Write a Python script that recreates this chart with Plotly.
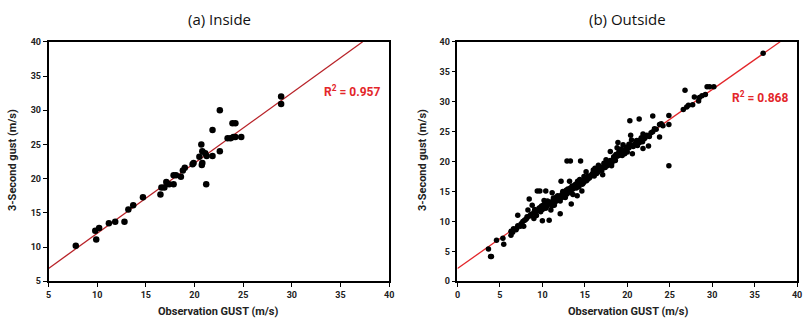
import plotly.graph_objects as go

# ---------------- data ----------------
inside_obs = [7.8, 9.8, 9.9, 10.2, 11.2, 11.85, 12.8, 13.2, 13.7, 14.7, 16.5, 16.6, 16.9, 17.1,
              17.4, 17.85, 17.85, 18.1, 18.6, 18.8, 19.0, 19.8, 19.9, 20.5, 20.7, 20.75, 20.8,
              20.8, 21.1, 21.2, 21.25, 21.85, 21.85, 22.6, 22.6, 23.4, 23.7, 23.9, 24.2, 24.0,
              24.2, 24.8, 28.9, 28.9]
inside_gust = [10.2, 12.4, 11.1, 12.8, 13.5, 13.7, 13.7, 15.5, 16.1, 17.3, 17.7, 18.7, 18.7, 19.5,
               19.2, 19.2, 20.5, 20.5, 20.3, 21.2, 21.6, 22.1, 22.3, 23.2, 25.0, 22.0, 22.3,
               24.0, 23.7, 19.2, 23.3, 23.3, 27.1, 30.0, 24.0, 25.9, 25.9, 28.1, 28.1, 26.1,
               26.1, 26.1, 32.0, 30.9]

outside_obs = [3.65, 3.9, 4.0, 4.6, 5.35, 5.45, 6.3, 6.3, 6.6, 6.9, 7.1, 7.1, 7.4, 7.8, 7.9, 8.15,
               8.3, 8.45, 8.6, 8.8, 9.0, 9.2, 9.4, 9.7, 9.6, 9.8, 10.0, 10.1, 10.2, 10.4, 10.4,
               10.6, 10.8, 10.9, 11.0, 11.15, 11.3, 11.4, 11.65, 11.8, 12.0, 12.1, 12.2, 12.3,
               12.5, 12.7, 12.9, 13.0, 13.2, 13.3, 13.4, 13.5, 13.6, 13.9, 14.1, 14.15, 14.4,
               14.5, 14.65, 14.8, 14.9, 15.15, 15.3, 15.5, 15.8, 16.0, 16.2, 16.4, 16.6, 16.8,
               17.1, 17.25, 17.5, 17.65, 17.9, 18.0, 18.15, 18.4, 18.65, 18.8, 18.9, 19.0, 19.3,
               19.5, 19.7, 19.9, 20.2, 20.3, 20.4, 20.5, 20.6, 20.9, 21.1, 21.4, 21.45, 21.65,
               21.85, 21.85, 22.0, 22.4, 22.5, 22.8, 23.0, 23.2, 23.8, 24.0, 24.2, 24.9, 24.9,
               24.9, 26.6, 26.8, 27.0, 27.2, 27.7, 27.9, 28.4, 28.5, 28.8, 29.2, 29.4, 29.7,
               30.2, 36.0,
               6.5, 7.0, 7.5, 7.7, 8.0, 8.2, 8.5, 8.7, 9.0, 9.1, 9.3, 9.5, 9.7, 9.9, 10.0, 10.2,
               10.3, 10.5, 10.6, 10.8, 11.0, 11.1, 11.3, 11.5, 11.6, 11.8, 12.0, 12.1, 12.3,
               12.4, 12.6, 12.8, 12.9, 13.1, 13.3, 13.4, 13.6, 13.8, 14.0, 14.2, 14.3, 14.5,
               14.7, 14.9, 15.0, 15.2, 15.4, 15.6, 15.9, 16.1, 16.3, 16.5, 16.7, 16.9, 17.0,
               17.2, 17.4, 17.6, 17.8, 18.0, 18.2, 18.4, 18.6, 18.8, 19.0, 19.2, 19.4, 19.6,
               19.8, 20.0, 20.2, 20.4, 20.7, 21.0, 21.2, 21.5, 21.8, 22.1, 22.3, 22.6, 23.0,
               23.4, 23.8]
outside_gust = [5.4, 4.15, 4.15, 6.85, 7.2, 6.2, 7.7, 8.35, 8.8, 8.6, 9.3, 11.05, 9.2, 9.2, 10.2,
                10.5, 11.9, 13.75, 11.05, 12.7, 10.5, 11.6, 15.1, 15.1, 12.2, 11.6, 10.1, 12.7,
                13.5, 15.1, 12.2, 12.9, 10.2, 13.2, 11.9, 14.8, 13.9, 12.7, 13.5, 14.3, 13.75,
                11.3, 16.7, 14.5, 14.8, 14.0, 20.1, 15.4, 16.7, 20.1, 12.9, 15.9, 14.5, 16.2,
                14.3, 16.7, 17.0, 20.1, 15.1, 16.4, 17.5, 18.3, 17.0, 17.2, 17.8, 18.6, 18.9,
                18.0, 19.4, 18.6, 17.8, 19.7, 20.3, 19.3, 20.0, 21.7, 19.3, 20.8, 21.2, 22.3,
                23.2, 21.6, 22.1, 22.8, 21.3, 22.4, 22.9, 26.8, 24.4, 23.6, 21.3, 22.9, 23.5,
                27.1, 23.2, 24.0, 24.6, 22.2, 23.8, 24.3, 22.6, 24.8, 27.6, 25.5, 24.1, 26.3,
                26.0, 27.7, 26.2, 19.3, 28.7, 31.9, 29.1, 29.4, 29.5, 30.8, 30.1, 30.7, 31.0,
                31.2, 32.5, 32.5, 32.5, 38.1,
                8.2, 8.9, 9.6, 10.0, 10.3, 10.8, 10.9, 11.2, 11.5, 12.0, 11.0, 11.8, 12.3, 12.6,
                12.0, 12.4, 13.0, 12.5, 13.4, 13.0, 13.2, 12.6, 13.6, 13.2, 14.0, 13.8, 14.2,
                13.4, 14.0, 15.0, 14.4, 15.2, 14.6, 15.0, 15.6, 14.8, 15.4, 16.0, 15.6, 16.4,
                15.8, 16.8, 16.2, 16.6, 17.2, 16.8, 17.6, 17.4, 18.0, 17.6, 18.4, 18.2, 18.8,
                19.0, 18.5, 19.2, 19.0, 19.8, 19.5, 20.2, 19.8, 20.5, 20.2, 20.9, 21.0, 21.4,
                21.0, 21.8, 22.0, 21.6, 22.3, 22.8, 22.5, 23.0, 22.7, 23.6, 23.3, 24.0, 24.4,
                24.2, 25.0, 25.4, 26.2]

fit_inside = (1.026, 1.75)    # slope, intercept
fit_outside = (0.996, 2.15)
r2_inside = "0.957"
r2_outside = "0.868"

x_ticks_a = [5, 10, 15, 20, 25, 30, 35, 40]
x_ticks_b = [0, 5, 10, 15, 20, 25, 30, 35, 40]

# ---------------- figure ----------------
W, H = 811, 328
fig = go.Figure()

def px(x):
    return x / W

def py(y):
    return 1 - y / H

m, b = fit_inside
x0, x1 = 5, (40 - b) / m
fig.add_trace(go.Scatter(x=[x0, x1], y=[m * x0 + b, m * x1 + b], mode="lines",
                         line=dict(color="#b82228", width=1.3), xaxis="x", yaxis="y",
                         showlegend=False))
fig.add_trace(go.Scatter(x=inside_obs, y=inside_gust, mode="markers",
                         marker=dict(color="black", size=6.5), xaxis="x", yaxis="y",
                         showlegend=False))

m, b = fit_outside
x0, x1 = 0, (40 - b) / m
fig.add_trace(go.Scatter(x=[x0, x1], y=[m * x0 + b, m * x1 + b], mode="lines",
                         line=dict(color="#e3262a", width=1.3), xaxis="x2", yaxis="y2",
                         showlegend=False))
fig.add_trace(go.Scatter(x=outside_obs, y=outside_gust, mode="markers",
                         marker=dict(color="black", size=5.5), xaxis="x2", yaxis="y2",
                         showlegend=False))

tickfont = dict(family="Roboto", size=9, color="#222", weight="bold")
common = dict(showgrid=False, zeroline=False, showline=True, linecolor="black",
              linewidth=1.5, mirror=True, ticks="outside", ticklen=4, tickwidth=1,
              tickcolor="black", tickfont=tickfont)

ydom = [py(285), py(38)]
fig.update_layout(
    width=W, height=H, margin=dict(l=0, r=0, t=0, b=0),
    paper_bgcolor="white", plot_bgcolor="white",
    xaxis=dict(domain=[px(46), px(390)], range=[5, 40], tickvals=x_ticks_a, anchor="y", **common),
    yaxis=dict(domain=ydom, range=[5, 40], tickvals=x_ticks_a, anchor="x", **common),
    xaxis2=dict(domain=[px(459), px(802)], range=[0, 40], tickvals=x_ticks_b, anchor="y2", **common),
    yaxis2=dict(domain=ydom, range=[0, 40], tickvals=x_ticks_b, anchor="x2", **common),
)

title_font = dict(family="Open Sans", size=15, color="#111")
axt_font = dict(family="Roboto", size=11, color="#222", weight="bold")
r2_font = dict(family="Roboto", size=12, color="#e3262a", weight="bold")

ann = [
    dict(text="(a) Inside", x=px(219), y=py(14), font=title_font),
    dict(text="(b) Outside", x=px(631), y=py(14), font=title_font),
    dict(text="Observation GUST (m/s)", x=px(217), y=py(316), font=axt_font),
    dict(text="Observation GUST (m/s)", x=px(631), y=py(316), font=axt_font),
    dict(text="3-Second gust (m/s)", x=px(9), y=py(160), font=axt_font, textangle=-90),
    dict(text="3-Second gust (m/s)", x=px(423), y=py(160), font=axt_font, textangle=-90),
    dict(text="R<sup>2</sup> = " + r2_inside, x=px(352), y=py(89), font=r2_font),
    dict(text="R<sup>2</sup> = " + r2_outside, x=px(765), y=py(95), font=r2_font),
]
for a in ann:
    fig.add_annotation(xref="paper", yref="paper", showarrow=False,
                       xanchor="center", yanchor="middle", **a)

fig.write_html("out.html")
